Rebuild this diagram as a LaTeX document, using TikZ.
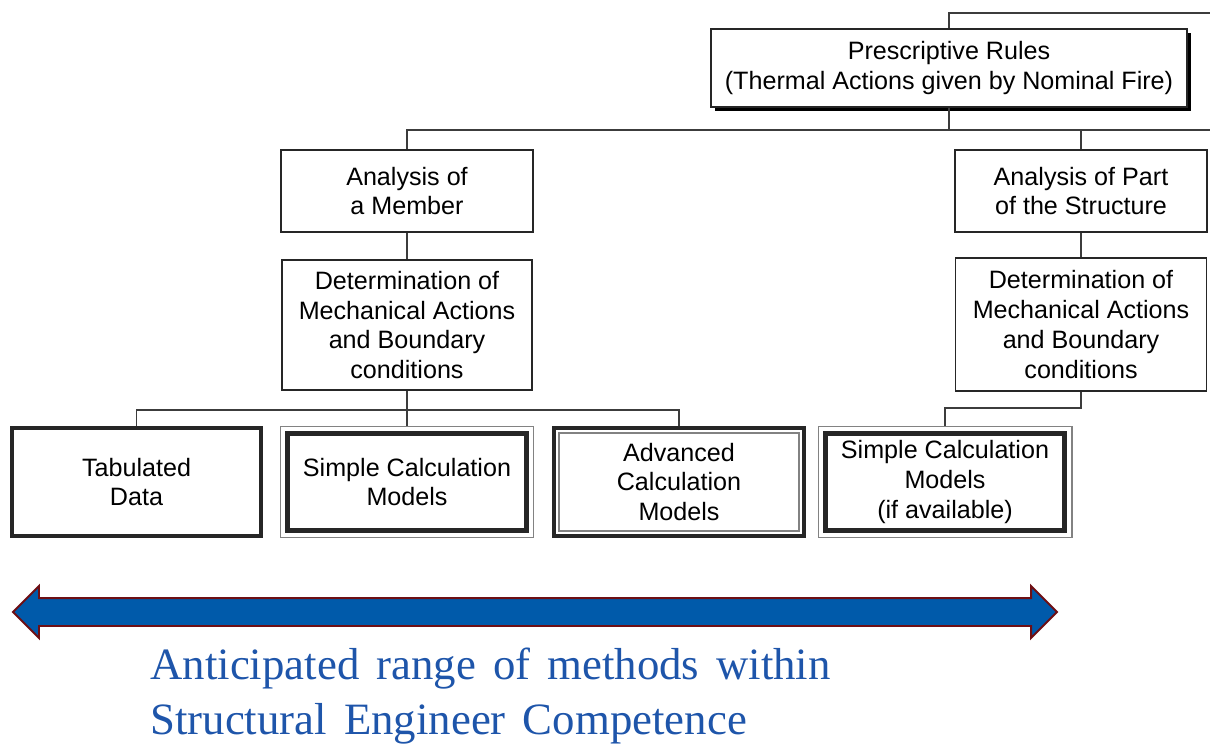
\documentclass[tikz,border=0pt]{standalone}
\usepackage{fontspec}
\setmainfont{Liberation Sans}
\newfontfamily\capfont{Liberation Serif}
\newcommand{\capsetup}{\capfont\fontsize{25.5}{31.2}\selectfont\spaceskip=0.38em plus 0.1em\relax}
\usetikzlibrary{calc,fit,shadows,shapes.arrows}
\definecolor{linegray}{RGB}{60,60,60}
\definecolor{framegray}{RGB}{130,130,130}
\definecolor{arrowblue}{RGB}{0,90,170}
\definecolor{arrowred}{RGB}{110,15,20}
\definecolor{captionblue}{RGB}{30,85,170}

\tikzset{
  box/.style={draw=black!85, line width=0.9pt, fill=white, align=center, inner sep=2pt,
    font=\fontsize{14.3}{17}\selectfont},
  heavybox/.style={box, line width=2.4pt},
  ringframe/.style={draw=framegray, line width=1pt, inner sep=0.1cm},
  link/.style={draw=linegray, line width=1pt},
}

\begin{document}
\begin{tikzpicture}
  \useasboundingbox (0,0) rectangle (24.2,-14.9);

  % top of the tree
  \node[box, minimum width=9.52cm, minimum height=1.56cm, drop shadow={shadow xshift=0.08cm, shadow yshift=-0.08cm, fill=black, opacity=1}] (rules) at (18.98,-1.36) {Prescriptive Rules\\(Thermal Actions given by Nominal Fire)};

  % analysis level
  \node[box, minimum width=5.04cm, minimum height=1.64cm] (member) at (8.14,-3.82) {Analysis of\\a Member};
  \node[box, minimum width=5.04cm, minimum height=1.64cm] (part) at (21.62,-3.82) {Analysis of Part\\of the Structure};
  \node[box, minimum width=5.0cm, minimum height=2.6cm] (detL) at (8.14,-6.5) {Determination of\\Mechanical Actions\\and Boundary\\conditions};
  \node[box, minimum width=5.02cm, minimum height=2.66cm] (detR) at (21.62,-6.49) {Determination of\\Mechanical Actions\\and Boundary\\conditions};

  % methods
  \node[heavybox, minimum width=4.98cm, minimum height=2.16cm] (tab) at (2.73,-9.64) {Tabulated\\Data};
  \node[heavybox, minimum width=4.78cm, minimum height=1.94cm] (simpL) at (8.14,-9.64) {Simple Calculation\\Models};
  \node[ringframe, fit=(simpL)] (simpLf) {};
  \node[heavybox, minimum width=5.0cm, minimum height=2.16cm] (adv) at (13.58,-9.64) {Advanced\\Calculation\\Models};
  \draw[framegray, line width=1pt] ($(adv.north west)+(0.14,-0.14)$) rectangle ($(adv.south east)+(-0.14,0.14)$);
  \node[heavybox, minimum width=4.78cm, minimum height=1.94cm] (simpR) at (18.9,-9.64) {Simple Calculation\\Models\\(if available)};
  \node[ringframe, fit=(simpR)] (simpRf) {};

  % tree lines
  \coordinate (topend) at (24.2,-0.26);
  \coordinate (split) at (18.98,-2.6);
  \coordinate (splitend) at (24.2,-2.6);
  \coordinate (forkL) at (8.14,-8.2);
  \coordinate (forkR) at (21.62,-8.16);
  \draw[link] (rules.north) |- (topend);
  \draw[link] (rules.south) -- (split);
  \draw[link] (member.north) |- (splitend);
  \draw[link] (part.north) -- (part.north |- split);
  \draw[link] (member.south) -- (detL.north);
  \draw[link] (part.south) -- (detR.north);
  \draw[link] (detL.south) -- (forkL);
  \draw[link] (tab.north) |- (adv.north |- forkL) -- (adv.north);
  \draw[link] (simpLf.north) -- (simpLf.north |- forkL);
  \draw[link] (detR.south) -- (forkR) -| (simpRf.north);

  % range of methods
  \node[double arrow, draw=arrowred, fill=arrowblue, line width=1.1pt, minimum height=20.88cm, minimum width=1.0cm, double arrow head extend=0.24cm, inner sep=0.26cm] (range) at (10.7,-12.24) {};
  \node[anchor=north west, inner sep=0pt, align=left, text=captionblue, font=\capsetup] (caption) at (3.0,-12.96) {Anticipated range of methods within\\Structural Engineer Competence};
\end{tikzpicture}
\end{document}
